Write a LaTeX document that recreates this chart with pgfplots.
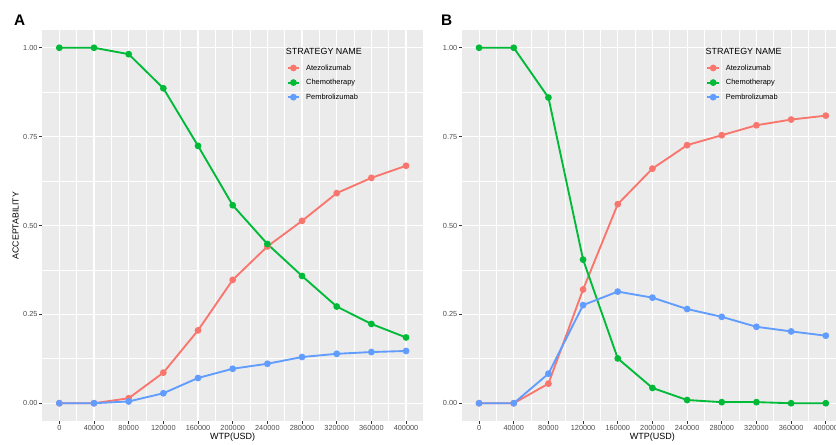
\documentclass[border=0pt]{standalone}
\usepackage{pgfplots}
\usepackage{pgfplotstable}
\pgfplotsset{compat=1.18}
\usepackage{fontspec}
\setmainfont{Liberation Sans}
\definecolor{ggbg}{HTML}{EBEBEB}
\definecolor{ggred}{HTML}{F8766D}
\definecolor{gggreen}{HTML}{00BA38}
\definecolor{ggblue}{HTML}{619CFF}
\definecolor{ggtick}{HTML}{4D4D4D}
\definecolor{ggtickmark}{HTML}{333333}

\pgfplotstableread{
x      atezo chemo pembro
0      0.000 1.000 0.000
40000  0.000 1.000 0.000
80000  0.014 0.982 0.005
120000 0.086 0.886 0.028
160000 0.205 0.724 0.071
200000 0.347 0.557 0.097
240000 0.441 0.448 0.111
280000 0.513 0.358 0.130
320000 0.591 0.272 0.139
360000 0.634 0.223 0.144
400000 0.668 0.185 0.147
}\dataA

\pgfplotstableread{
x      atezo chemo pembro
0      0.000 1.000 0.000
40000  0.000 1.000 0.000
80000  0.055 0.860 0.083
120000 0.320 0.404 0.276
160000 0.560 0.126 0.314
200000 0.660 0.043 0.297
240000 0.726 0.009 0.265
280000 0.754 0.003 0.243
320000 0.782 0.003 0.215
360000 0.798 0.000 0.202
400000 0.809 0.000 0.190
}\dataB

\pgfplotsset{
  ggpanel/.style={
    scale only axis, width=286.05pt, height=293.25pt,
    anchor=south west,
    xmin=-20000, xmax=420000, ymin=-0.05, ymax=1.05,
    scaled ticks=false,
    axis background/.style={fill=ggbg},
    axis line style={draw=none},
    grid=both,
    major grid style={white, line width=0.85pt},
    minor grid style={white, line width=0.45pt},
    xtick={0,40000,80000,120000,160000,200000,240000,280000,320000,360000,400000},
    xticklabels={0,40000,80000,120000,160000,200000,240000,280000,320000,360000,400000},
    minor xtick={20000,60000,100000,140000,180000,220000,260000,300000,340000,380000},
    ytick={0,0.25,0.5,0.75,1},
    yticklabels={0.00,0.25,0.50,0.75,1.00},
    minor ytick={0.125,0.375,0.625,0.875},
    tick align=outside, tick pos=left,
    major tick length=2.2pt, minor tick length=0pt,
    major tick style={ggtickmark, line width=0.5pt},
    ticklabel style={font=\fontsize{5.5}{6}\selectfont, text=ggtick, inner sep=0pt},
    xticklabel style={anchor=center, yshift=-3.3pt},
    yticklabel style={anchor=east, xshift=-1pt},
    xlabel={WTP(USD)},
    every axis x label/.style={at={(axis description cs:0.5,-0.0417)}, anchor=center, font=\fontsize{6.75}{7}\selectfont},
    every axis y label/.style={at={(axis description cs:-0.069,0.5)}, anchor=center, rotate=90, font=\fontsize{6.55}{7}\selectfont},
    legend style={at={(axis description cs:0.6416,0.9164)}, anchor=north west, draw=none, fill=none,
      inner sep=0pt, outer sep=0pt, font=\fontsize{5.6}{6}\selectfont, row sep=0pt,
      nodes={inner sep=0pt, text height=5.5pt, text depth=5.45pt},
      /tikz/every odd column/.append style={column sep=4.5pt}},
    legend cell align=left,
    legend image code/.code={\draw[mark repeat=2,mark phase=2,yshift=1.5pt,##1] plot coordinates {(0pt,0pt) (4.35pt,0pt) (8.7pt,0pt)};},
    every axis plot/.append style={line width=1.4pt, mark=*, mark size=1.8pt, mark options={solid}},
  }
}

\begin{document}
\begin{tikzpicture}
\begin{axis}[ggpanel, at={(31.5pt,18pt)}, ylabel={ACCEPTABILITY}]
\addplot[ggred] table[x=x,y=atezo] {\dataA};
\addlegendentry{Atezolizumab}
\addplot[gggreen] table[x=x,y=chemo] {\dataA};
\addlegendentry{Chemotherapy}
\addplot[ggblue] table[x=x,y=pembro] {\dataA};
\addlegendentry{Pembrolizumab}
\node[anchor=west, inner sep=0pt, font=\fontsize{6.7}{7}\selectfont] at (rel axis cs:0.639,0.9445) {STRATEGY NAME};
\end{axis}
\begin{axis}[ggpanel, at={(346.3pt,18pt)}]
\addplot[ggred] table[x=x,y=atezo] {\dataB};
\addlegendentry{Atezolizumab}
\addplot[gggreen] table[x=x,y=chemo] {\dataB};
\addlegendentry{Chemotherapy}
\addplot[ggblue] table[x=x,y=pembro] {\dataB};
\addlegendentry{Pembrolizumab}
\node[anchor=west, inner sep=0pt, font=\fontsize{6.7}{7}\selectfont] at (rel axis cs:0.639,0.9445) {STRATEGY NAME};
\end{axis}
\node[font=\fontsize{11.5}{12}\selectfont\bfseries, inner sep=0pt] at (14.8pt,318.4pt) {A};
\node[font=\fontsize{11.5}{12}\selectfont\bfseries, inner sep=0pt] at (335pt,318.4pt) {B};
\pgfresetboundingbox
\path[use as bounding box] (0pt,0pt) rectangle (627pt,333.75pt);
\end{tikzpicture}
\end{document}
